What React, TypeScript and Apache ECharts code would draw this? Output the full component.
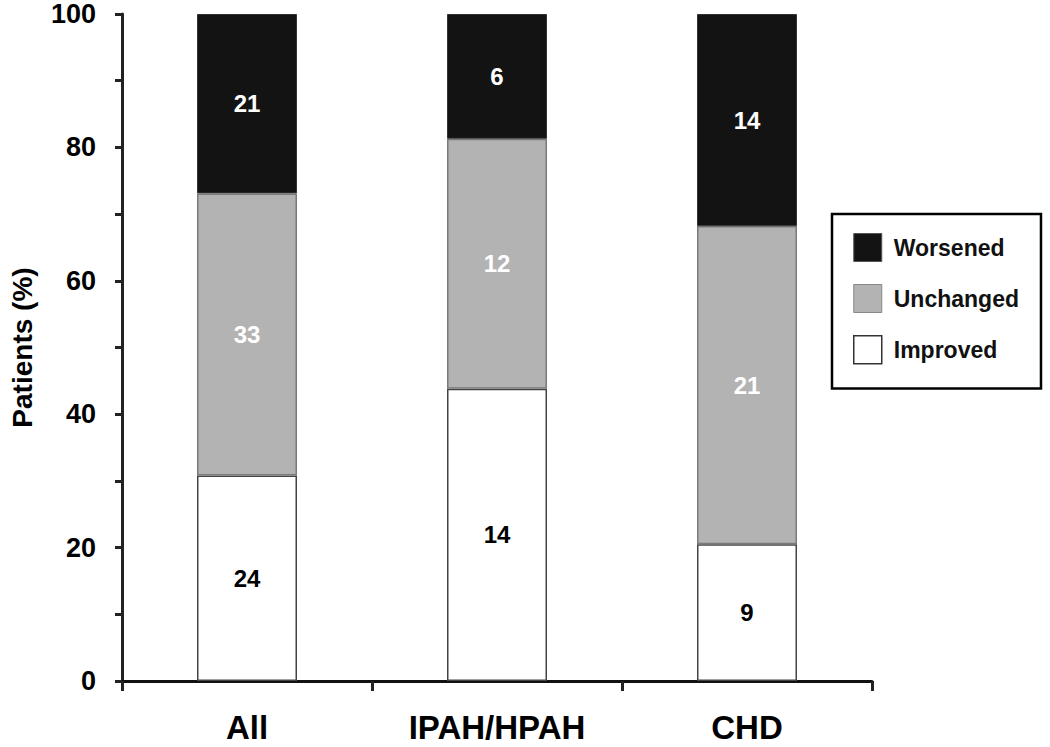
import React, { useEffect, useRef } from "react";
import * as echarts from "echarts";

const categories = ["All", "IPAH/HPAH", "CHD"];
const improvedCounts = [24, 14, 9];
const unchangedCounts = [33, 12, 21];
const worsenedCounts = [21, 6, 14];
const improvedPct = [30.8, 43.8, 20.5];
const unchangedPct = [42.3, 37.5, 47.7];
const worsenedPct = [26.9, 18.7, 31.8];
const yTicks = [0, 20, 40, 60, 80, 100];

const FONT = "'Liberation Sans', Arial, Helvetica, sans-serif";

export default function App() {
  const ref = useRef<HTMLDivElement>(null);
  useEffect(() => {
    if (!ref.current) return;
    const chart = echarts.init(ref.current, null, { renderer: "svg" });
    const labelFor = (counts: number[], color: string) => ({
      show: true,
      position: "inside",
      color,
      fontFamily: FONT,
      fontWeight: "bold",
      fontSize: 24,
      formatter: (p: any) => String(counts[p.dataIndex]),
    });
    chart.setOption({
      animation: false,
      backgroundColor: "#ffffff",
      grid: { left: 118, right: 178, top: 14, bottom: 66, containLabel: false },
      legend: {
        orient: "vertical",
        left: 832,
        top: 214,
        padding: [19, 22, 24, 21],
        itemWidth: 28,
        itemHeight: 28,
        itemGap: 22,
        borderColor: "#000",
        borderWidth: 2.5,
        icon: "rect",
        textStyle: {
          fontFamily: FONT,
          fontWeight: "bold",
          fontSize: 23,
          color: "#111",
          padding: [0, 0, 0, 7],
        },
        data: [
          { name: "Worsened", itemStyle: { color: "#131313", borderColor: "#555", borderWidth: 1 } },
          { name: "Unchanged", itemStyle: { color: "#b3b3b3", borderColor: "#888", borderWidth: 1 } },
          { name: "Improved", itemStyle: { color: "#ffffff", borderColor: "#333", borderWidth: 1.5 } },
        ],
      },
      xAxis: {
        type: "category",
        data: categories,
        boundaryGap: true,
        axisLine: { show: true, lineStyle: { color: "#111", width: 3 } },
        axisTick: { show: true, alignWithLabel: false, length: 10, lineStyle: { color: "#222", width: 3 } },
        axisLabel: {
          color: "#000",
          fontFamily: FONT,
          fontWeight: "bold",
          fontSize: 33,
          margin: 30,
        },
        splitLine: { show: false },
      },
      yAxis: {
        type: "value",
        min: 0,
        max: 100,
        interval: 10,
        name: "Patients (%)",
        nameLocation: "middle",
        nameGap: 86,
        nameTextStyle: { color: "#000", fontFamily: FONT, fontWeight: "bold", fontSize: 28 },
        axisLine: { show: true, lineStyle: { color: "#222", width: 3 } },
        axisTick: { show: true, inside: false, length: 7, lineStyle: { color: "#222", width: 3 } },
        axisLabel: {
          color: "#000",
          fontFamily: FONT,
          fontWeight: "bold",
          fontSize: 27,
          margin: 26,
          formatter: (v: number) => (yTicks.includes(v) ? String(v) : ""),
        },
        splitLine: { show: false },
      },
      series: [
        {
          name: "Improved",
          type: "bar",
          stack: "total",
          barWidth: 100,
          data: improvedPct,
          itemStyle: { color: "#ffffff", borderColor: "#444", borderWidth: 1.5 },
          label: labelFor(improvedCounts, "#000"),
        },
        {
          name: "Unchanged",
          type: "bar",
          stack: "total",
          barWidth: 100,
          data: unchangedPct,
          itemStyle: { color: "#b3b3b3", borderColor: "#7a7a7a", borderWidth: 1.5 },
          label: labelFor(unchangedCounts, "#fff"),
        },
        {
          name: "Worsened",
          type: "bar",
          stack: "total",
          barWidth: 100,
          data: worsenedPct,
          itemStyle: { color: "#131313", borderColor: "#333", borderWidth: 1 },
          label: labelFor(worsenedCounts, "#fff"),
        },
      ],
    });
    return () => chart.dispose();
  }, []);
  return (
    <div
      ref={ref}
      style={{ position: "fixed", left: 0, top: 0, width: 1050, height: 747, background: "#fff" }}
    />
  );
}
